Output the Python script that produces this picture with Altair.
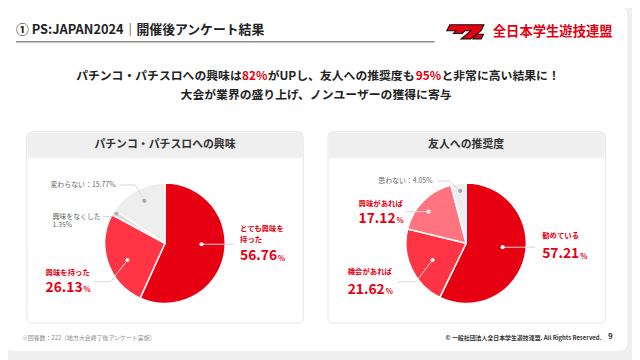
import altair as alt
import pandas as pd

FONT = "Noto Sans CJK JP"
RED = "#e60012"
DARK = "#222222"

# ---------------- data ----------------
slide_title = "① PS:JAPAN2024｜開催後アンケート結果"
org_name = "全日本学生遊技連盟"
headline1 = ["パチンコ・パチスロへの興味は", "82%", "がUPし、友人への推奨度も", "95%", "と非常に高い結果に！"]
headline2 = "大会が業界の盛り上げ、ノンユーザーの獲得に寄与"

left_title = "パチンコ・パチスロへの興味"
left_cats = ["とても興味を持った", "興味を持った", "興味をなくした", "変わらない"]
left_vals = [56.76, 26.13, 1.35, 15.77]
left_colors = [RED, "#ff3546", "#d9d9d9", "#eeeeee"]

right_title = "友人への推奨度"
right_cats = ["勧めている", "機会があれば", "興味があれば", "思わない"]
right_vals = [57.21, 21.62, 17.12, 4.05]
right_colors = [RED, "#ff3546", "#ff7480", "#eeeeee"]

footnote = "※回答数：222（地方大会終了後アンケート実施）"
copyright_txt = "© 一般社団法人全日本学生遊技連盟. All Rights Reserved."
page_no = "9"

# ---------------- scales (page pixel coordinates) ----------------
xs = alt.Scale(domain=[8, 640], nice=False, zero=False)
ys = alt.Scale(domain=[8, 360], nice=False, zero=False, reverse=True)


def X(f):
    return alt.X(f, scale=xs, axis=None)


def Y(f):
    return alt.Y(f, scale=ys, axis=None)


def rects(rows, **mark):
    df = pd.DataFrame(rows, columns=["x", "x2", "y", "y2", "c"])
    return alt.Chart(df).mark_rect(**mark).encode(
        x=X("x:Q"), x2="x2:Q", y=Y("y:Q"), y2="y2:Q",
        color=alt.Color("c:N", scale=None, legend=None))


def texts(rows, **mark):
    df = pd.DataFrame(rows, columns=["x", "y", "t", "s", "c"])
    return alt.Chart(df).mark_text(font=FONT, **mark).encode(
        x=X("x:Q"), y=Y("y:Q"), text="t:N",
        size=alt.Size("s:Q", scale=None, legend=None),
        color=alt.Color("c:N", scale=None, legend=None))


def pie(cats, vals, colors, cx, cy):
    df = pd.DataFrame({"cat": cats, "v": vals, "c": colors, "o": list(range(len(cats)))})
    return alt.Chart(df).mark_arc(radius=61, stroke="white", strokeWidth=1.5).encode(
        theta=alt.Theta("v:Q", stack=True),
        order=alt.Order("o:Q"),
        color=alt.Color("c:N", scale=None, legend=None),
        x=alt.value(cx - 8), y=alt.value(cy - 8))


def fmt(v):
    return f"{v:.2f}"


layers = []

# slide card
layers.append(rects([[5, 635, 5, 353, "#ffffff"]], cornerRadius=7))
# panel cards
layers.append(rects([[27, 307, 131, 325, "#ffffff"], [332, 613, 131, 325, "#ffffff"]],
                    cornerRadius=5, stroke="#e4e4e4", strokeWidth=1))
layers.append(rects([[27.5, 306.5, 131.5, 158, "#efefef"], [332.5, 612.5, 131.5, 158, "#efefef"]],
                    cornerRadiusTopLeft=5, cornerRadiusTopRight=5))

# title underline
ul = pd.DataFrame({"x": [16], "x2": [440], "y": [40]})
layers.append(alt.Chart(ul).mark_rule(color="#8c8c8c", strokeWidth=1.5).encode(
    x=X("x:Q"), x2="x2:Q", y=Y("y:Q")))

# logo symbol
logo = pd.DataFrame({"x": [471], "y": [30]})
logo_path = ("M -0.82 -0.38 L 1 -0.38 L 0.86 -0.08 L 0.3 0.38 L -0.22 0.38 L 0.3 -0.06 "
             "L -0.02 -0.06 L -0.16 0.08 L -0.62 0.08 L -0.5 -0.06 L -0.98 -0.06 Z "
             "M 0.62 0.12 L 0.98 0.12 L 0.86 0.38 L 0.42 0.38 Z")
layers.append(alt.Chart(logo).mark_point(
    shape=logo_path, filled=True, size=1444, fill=RED, stroke="#111111", strokeWidth=1.1,
    opacity=1).encode(x=X("x:Q"), y=Y("y:Q")))

# pies
layers.append(pie(left_cats, left_vals, left_colors, 167, 244))
layers.append(pie(right_cats, right_vals, right_colors, 472, 244))

# leader lines
lines = pd.DataFrame([
    ["a", 0, 204, 245], ["a", 1, 237, 245],
    ["b", 0, 129, 261], ["b", 1, 112, 283], ["b", 2, 95, 283],
    ["c", 0, 146, 201], ["c", 1, 137, 185], ["c", 2, 121, 185],
    ["d", 0, 118, 214], ["d", 1, 113, 217], ["d", 2, 104, 217],
    ["e", 0, 509, 248], ["e", 1, 542, 248],
    ["f", 0, 438, 261], ["f", 1, 421, 283], ["f", 2, 403, 283],
    ["g", 0, 434, 212], ["g", 1, 410, 212],
    ["h", 0, 466, 191], ["h", 1, 455, 181], ["h", 2, 443, 181],
], columns=["g", "o", "x", "y"])
layers.append(alt.Chart(lines).mark_line(color="#d6d6d6", strokeWidth=1).encode(
    x=X("x:Q"), y=Y("y:Q"), detail="g:N", order="o:Q"))

dots = pd.DataFrame([
    [204, 245, "#f2f2f2"], [129, 261, "#f2f2f2"], [146, 201, "#a8a8a8"], [118, 214, "#b5b5b5"],
    [509, 248, "#f2f2f2"], [438, 261, "#f2f2f2"], [434, 212, "#f2f2f2"], [466, 191, "#a8a8a8"],
], columns=["x", "y", "c"])
layers.append(alt.Chart(dots).mark_circle(size=18, opacity=1).encode(
    x=X("x:Q"), y=Y("y:Q"), color=alt.Color("c:N", scale=None, legend=None)))

# title + logo text
layers.append(texts([[16, 28, slide_title, 13, DARK]], align="left", baseline="middle", fontWeight="bold"))
layers.append(texts([[499, 30, org_name, 13.5, RED]], align="left", baseline="middle", fontWeight="bold"))

# headline
hx = [77, 245, 271, 421, 447]
hc = [DARK, RED, DARK, RED, DARK]
layers.append(texts([[hx[i], 75, headline1[i], 12, hc[i]] for i in range(5)],
                    align="left", baseline="middle", fontWeight="bold"))
layers.append(texts([[320, 94, headline2, 12, DARK]], align="center", baseline="middle", fontWeight="bold"))

# panel headers
layers.append(texts([[167, 145, left_title, 11, "#333333"], [472, 145, right_title, 11, "#333333"]],
                    align="center", baseline="middle", fontWeight="bold"))

# red category labels
layers.append(texts([
    [243, 230, "とても興味を", 7.5, RED], [243, 241, "持った", 7.5, RED],
    [46, 274, left_cats[1], 7.5, RED],
    [549, 237, right_cats[0], 7.5, RED],
    [352, 273, right_cats[1], 7.5, RED],
    [363, 204, right_cats[2], 7.5, RED],
], align="left", baseline="middle", fontWeight="bold"))

# big numbers
NUM = 14
layers.append(texts([
    [243, 257, fmt(left_vals[0]), NUM, RED],
    [46, 289, fmt(left_vals[1]), NUM, RED],
    [549, 255, fmt(right_vals[0]), NUM, RED],
    [352, 291, fmt(right_vals[1]), NUM, RED],
    [363, 219, fmt(right_vals[2]), NUM, RED],
], align="left", baseline="middle", fontWeight="bold"))
PCT = 38.5
layers.append(texts([
    [243 + PCT, 259.5, "%", 7.5, RED],
    [46 + PCT, 291.5, "%", 7.5, RED],
    [549 + PCT, 257.5, "%", 7.5, RED],
    [352 + PCT, 293.5, "%", 7.5, RED],
    [363 + PCT, 221.5, "%", 7.5, RED],
], align="left", baseline="middle", fontWeight="bold"))

# gray labels
layers.append(texts([
    [51, 185, f"{left_cats[3]}：{fmt(left_vals[3])}%", 7, "#666666"],
    [53, 217, left_cats[2], 7, "#666666"],
    [53, 226, f"{fmt(left_vals[2])}%", 7, "#666666"],
    [383, 181, f"{right_cats[3]}：{fmt(right_vals[3])}%", 7, "#666666"],
], align="left", baseline="middle"))

# footer
layers.append(texts([[22, 340, footnote, 6, "#8a8a8a"]], align="left", baseline="middle"))
layers.append(texts([[609, 340, copyright_txt, 6, "#333333"]], align="right", baseline="middle", fontWeight="bold"))
layers.append(texts([[618, 339, page_no, 8, "#333333"]], align="center", baseline="middle", fontWeight="bold"))

chart = alt.layer(*layers).properties(
    width=632, height=352, autosize="none", padding=0, background="#efefef"
).configure_view(stroke=None)

chart.save("out.html", embed_options={"renderer": "svg", "actions": False})
